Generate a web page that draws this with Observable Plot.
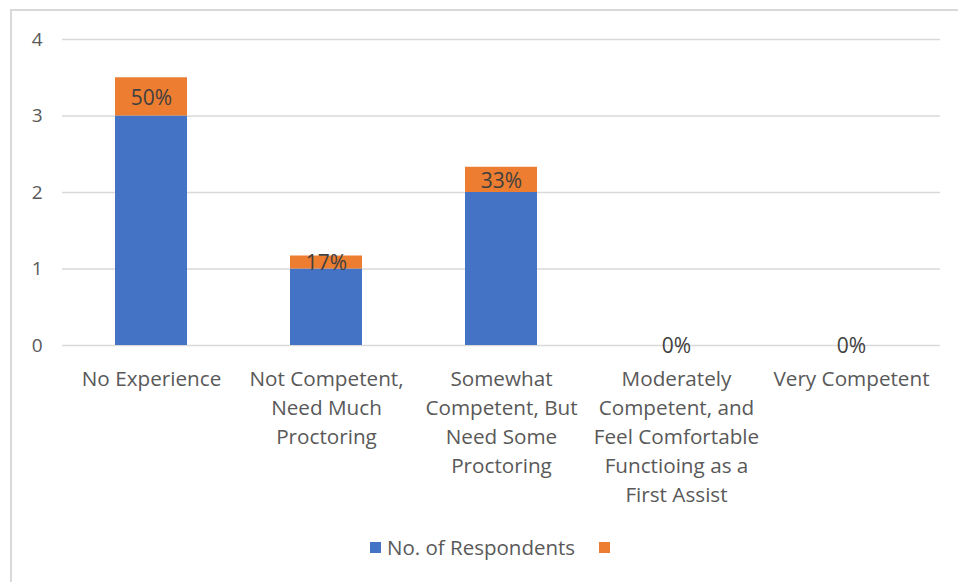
<!DOCTYPE html>
<html>
<head>
<meta charset="utf-8">
<script src="https://cdn.jsdelivr.net/npm/d3@7"></script>
<script src="https://cdn.jsdelivr.net/npm/@observablehq/plot@0.6"></script>
<style>
  html, body { margin: 0; padding: 0; background: #fff; }
  body { width: 958px; height: 582px; position: relative; overflow: hidden; font-family: "Open Sans", sans-serif; }
  #frame { position: absolute; left: 10px; top: 9px; width: 1000px; height: 640px; border: 2px solid #d9d9d9; box-sizing: border-box; }
  #chart { position: absolute; left: 0; top: 0; }
  #legend { position: absolute; top: 533px; left: 370px; display: flex; align-items: center; font-size: 20.5px; color: #595959; }
  .sw { width: 11px; height: 11px; display: inline-block; }
</style>
</head>
<body>
<div id="frame"></div>
<div id="chart"></div>
<div id="legend">
  <span class="sw" style="background:#4472C4"></span><span style="margin-left:6px">No. of Respondents</span>
  <span class="sw" style="background:#ED7D31; margin-left:24px"></span>
</div>
<script>
const categories = ["No Experience", "Not Competent, Need Much Proctoring", "Somewhat Competent, But Need Some Proctoring", "Moderately Competent, and Feel Comfortable Functioing as a First Assist", "Very Competent"];
const tickLabels = ["No Experience", "Not Competent,\nNeed Much\nProctoring", "Somewhat\nCompetent, But\nNeed Some\nProctoring", "Moderately\nCompetent, and\nFeel Comfortable\nFunctioing as a\nFirst Assist", "Very Competent"];
const respondents = [3, 1, 2, 0, 0];
const percents = [0.5, 0.17, 0.33, 0, 0];
const pctLabels = ["50%", "17%", "33%", "0%", "0%"];
const yTicks = [0, 1, 2, 3, 4];

const rows = [];
categories.forEach((c, i) => {
  rows.push({cat: c, series: "No. of Respondents", value: respondents[i], label: null});
  rows.push({cat: c, series: "pct", value: percents[i], label: pctLabels[i]});
});
const labelOf = new Map(categories.map((c, i) => [c, tickLabels[i]]));

const plot = Plot.plot({
  width: 958,
  height: 525,
  marginLeft: 62,
  marginRight: 18,
  marginTop: 39,
  marginBottom: 180,
  style: {fontFamily: "Open Sans, sans-serif", background: "transparent"},
  x: {domain: categories, paddingInner: 0.59, paddingOuter: 0.295, axis: null},
  y: {domain: [0, 4], axis: null},
  color: {domain: ["No. of Respondents", "pct"], range: ["#4472C4", "#ED7D31"]},
  marks: [
    Plot.ruleY(yTicks, {stroke: "#d9d9d9", strokeWidth: 1.5}),
    Plot.barY(rows, {x: "cat", y: "value", fill: "series"}),
    Plot.text(rows, Plot.stackY({x: "cat", y: "value", text: "label", fill: "#404040", fontSize: 21, dy: 1})),
    Plot.text(yTicks, {y: d => d, text: d => String(d), frameAnchor: "left", dx: -20, textAnchor: "end", fill: "#595959", fontSize: 19}),
    Plot.text(categories, {x: d => d, text: d => labelOf.get(d), frameAnchor: "bottom", lineAnchor: "top", dy: 20, lineHeight: 1.4, fill: "#595959", fontSize: 20.7})
  ]
});
document.getElementById("chart").appendChild(plot);
</script>
</body>
</html>
